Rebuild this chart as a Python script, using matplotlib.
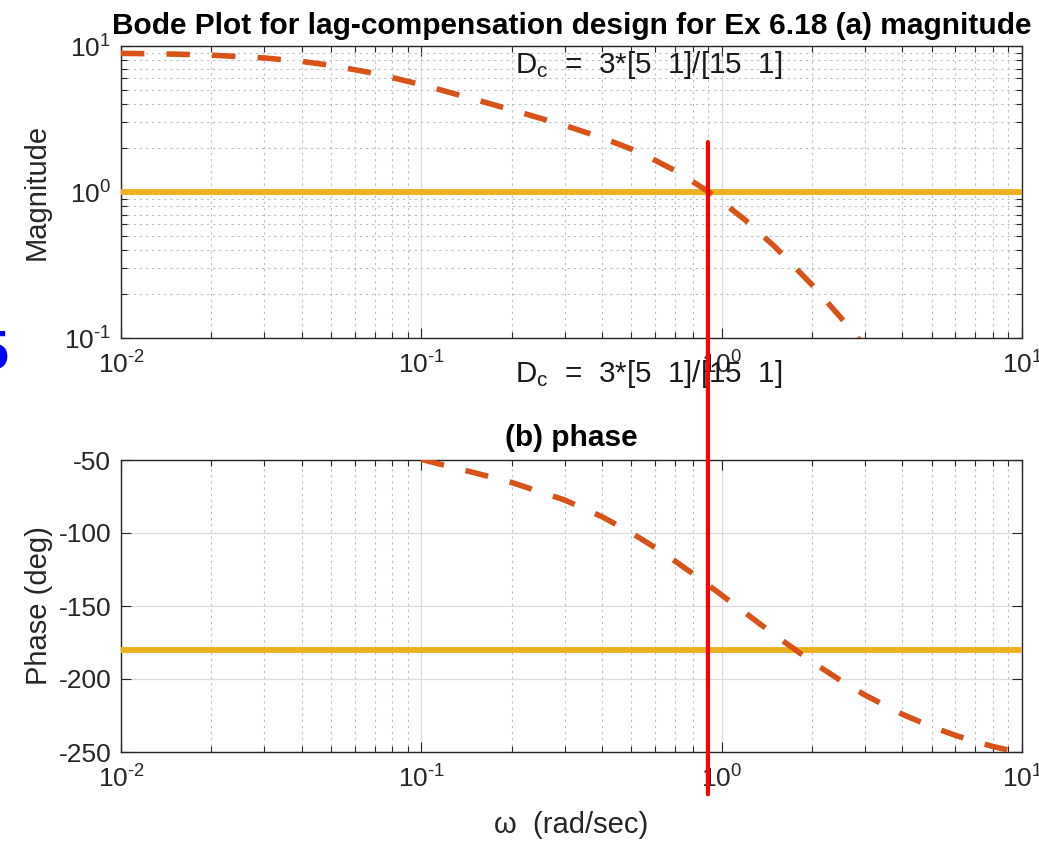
import math
import matplotlib
matplotlib.use("Agg")
import matplotlib.pyplot as plt
from matplotlib.patches import ConnectionPatch
from matplotlib.ticker import LogLocator, NullFormatter, FuncFormatter

plt.rcParams['font.family'] = ['Liberation Sans', 'DejaVu Sans']
plt.rcParams['mathtext.fontset'] = 'custom'
plt.rcParams['mathtext.rm'] = 'Liberation Sans'
plt.rcParams['mathtext.it'] = 'Liberation Sans:italic'
plt.rcParams['mathtext.default'] = 'regular'
plt.rcParams['axes.unicode_minus'] = False

# values (open loop with lag compensator)
w_mag = [0.01, 0.015, 0.02, 0.03, 0.04, 0.05, 0.07, 0.1, 0.15, 0.2, 0.3, 0.4,
         0.5, 0.6, 0.7, 0.8, 0.9, 1.0, 1.2, 1.5, 2.0, 2.5, 3.0, 4.0]
mag = [8.91, 8.80, 8.66, 8.28, 7.84, 7.37, 6.49, 5.44, 4.32, 3.65, 2.86, 2.35,
       1.97, 1.65, 1.40, 1.18, 1.01, 0.863, 0.641, 0.424, 0.231, 0.137, 0.087, 0.040]

w_phase = [0.1, 0.15, 0.2, 0.3, 0.4, 0.5, 0.6, 0.7, 0.8, 0.9, 1.0, 1.2, 1.5,
           2.0, 2.5, 3.0, 4.0, 5.0, 6.0, 7.0, 8.0, 10.0]
phase = [-49.6, -58.7, -65.4, -77.4, -88.9, -99.8, -110.0, -119.3, -127.7, -135.5,
         -142.5, -154.8, -169.8, -188.2, -201.3, -211.0, -224.2, -232.7, -238.6,
         -242.9, -246.2, -250.9]

mag_ref = 1.0
phase_ref = -180.0
w_cross = 0.9
cross_top_mag = 2.2
cross_bottom_phase = -279.0

dc_text = 'D$_c$  =  3*[5  1]/[15  1]'

orange = '#D95319'
yellow = '#EDB120'
axcol = '#262626'


def pow10_label(v, pos):
    e = int(round(math.log10(v)))
    s = str(abs(e))
    if e < 0:
        s = '\u2010' + s
    return '10$^{' + s + '}$'


fig = plt.figure(figsize=(10.39, 8.42), dpi=100)
ax1 = fig.add_axes([121/1039, 1 - 338/842, 901/1039, 292/842])
ax2 = fig.add_axes([121/1039, 1 - 752/842, 901/1039, 292/842])


def style(ax):
    ax.set_xscale('log')
    ax.set_xlim(0.01, 10)
    ax.xaxis.set_major_locator(LogLocator(base=10, numticks=10))
    ax.xaxis.set_major_formatter(FuncFormatter(pow10_label))
    ax.xaxis.set_minor_locator(LogLocator(base=10, subs=range(2, 10), numticks=10))
    ax.xaxis.set_minor_formatter(NullFormatter())
    ax.tick_params(which='both', direction='in', top=True, right=True,
                   colors=axcol, labelsize=19, width=0.8)
    ax.tick_params(which='major', length=7, pad=7)
    ax.tick_params(axis='x', which='major', pad=10)
    ax.tick_params(which='minor', length=4)
    for s in ax.spines.values():
        s.set_color(axcol)
        s.set_linewidth(1.0)
    ax.grid(True, which='major', color='#dcdcdc', linestyle='-', linewidth=0.9)
    ax.grid(True, which='minor', axis='x', color='#bdbdbd', linestyle=(0, (2, 3.5)),
            linewidth=0.8)
    ax.set_axisbelow(True)


# magnitude
style(ax1)
ax1.set_yscale('log')
ax1.set_ylim(0.1, 10)
ax1.yaxis.set_major_formatter(FuncFormatter(pow10_label))
ax1.yaxis.set_minor_locator(LogLocator(base=10, subs=range(2, 10), numticks=10))
ax1.yaxis.set_minor_formatter(NullFormatter())
ax1.grid(True, which='minor', axis='y', color='#bdbdbd', linestyle=(0, (2, 3.5)),
         linewidth=0.8)
l1, = ax1.plot(w_mag, mag, color=orange, linewidth=4, zorder=4)
l1.set_dashes((4.2, 4.0))
ax1.axhline(mag_ref, color=yellow, linewidth=4.2, zorder=3)
ax1.set_ylabel('Magnitude', fontsize=21, color=axcol, labelpad=10)
ax1.set_title('Bode Plot for lag-compensation design for Ex 6.18 (a) magnitude',
              fontsize=21.5, fontweight='bold', pad=9)
ax1.text(0.205, 7.4, dc_text, fontsize=21.3, va='center', ha='left', color='#1a1a1a')
ax1.text(0.205, 0.0566, dc_text, fontsize=21.3, va='center', ha='left', color='#1a1a1a',
         clip_on=False)

# phase
style(ax2)
ax2.set_ylim(-250, -50)
ax2.set_yticks([-250, -200, -150, -100, -50])
l2, = ax2.plot(w_phase, phase, color=orange, linewidth=4, zorder=4)
l2.set_dashes((4.2, 4.0))
ax2.axhline(phase_ref, color=yellow, linewidth=4.2, zorder=3)
ax2.set_ylabel('Phase (deg)', fontsize=21, color=axcol, labelpad=4)
ax2.set_xlabel('ω  (rad/sec)', fontsize=21, color=axcol, labelpad=13)
ax2.set_title('(b) phase', fontsize=21.5, fontweight='bold', pad=10)

# crossover marker through both panels
con = ConnectionPatch(xyA=(w_cross, cross_top_mag), coordsA=ax1.transData,
                      xyB=(w_cross, cross_bottom_phase), coordsB=ax2.transData,
                      color='#ff0000', linewidth=3, zorder=10)
fig.add_artist(con)

# stray blue glyph at left edge of the original screenshot
fig.text(8/1039, 1 - 355/842, '5', color='#0000ff', fontsize=40, fontweight='bold',
         ha='right', va='center')

fig.savefig('out.png', dpi=100)
